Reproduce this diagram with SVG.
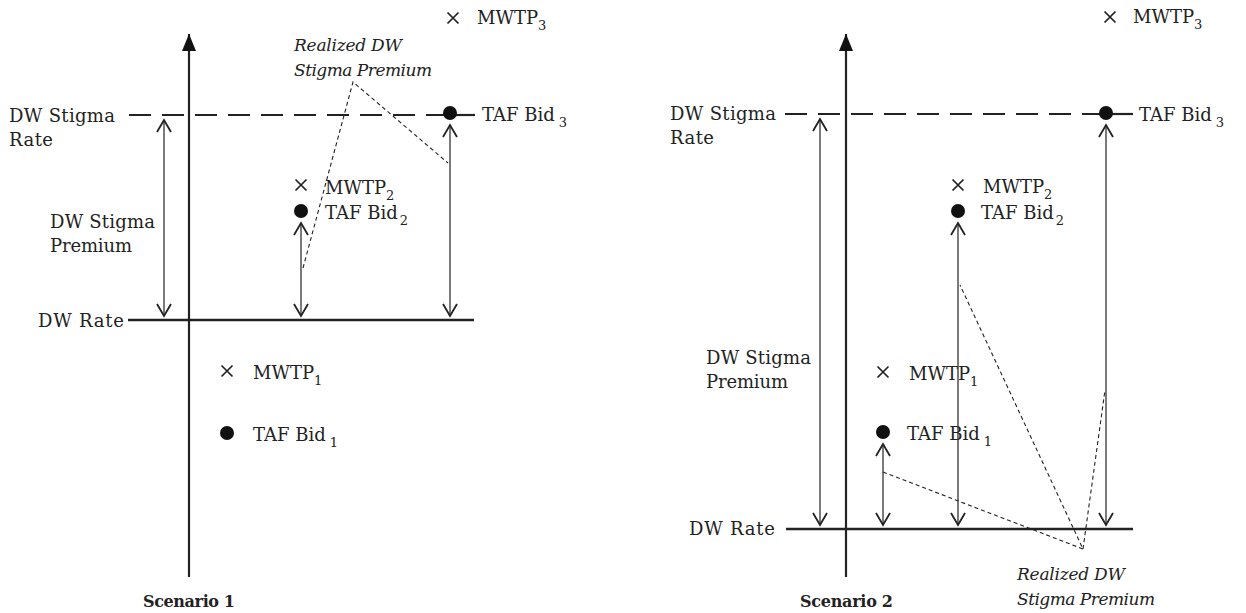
<svg xmlns="http://www.w3.org/2000/svg" width="1246" height="613" viewBox="0 0 1246 613">
<defs>
<marker id="v" viewBox="-14 -9 16 18" markerWidth="16" markerHeight="18" markerUnits="userSpaceOnUse" refX="0" refY="0" orient="auto-start-reverse">
<path d="M-12,-7 L0,0 L-12,7" fill="none" stroke="#222" stroke-width="1.8"/>
</marker>
<marker id="tri" viewBox="-18 -8 20 16" markerWidth="20" markerHeight="16" markerUnits="userSpaceOnUse" refX="0" refY="0" orient="auto">
<path d="M-17,-7 L0,0 L-17,7 Z" fill="#111"/>
</marker>
</defs>
<style>
text{font-family:"DejaVu Serif","Liberation Serif",serif;font-size:18px;font-weight:normal;fill:#222}
.it{font-style:italic;font-size:17px}
.sub{font-size:13px}
.sc{font-size:16px;font-weight:bold}
.axis{stroke:#222;stroke-width:2.2;fill:none}
.base{stroke:#222;stroke-width:2.6;fill:none}
.dash{stroke:#222;stroke-width:2.2;stroke-dasharray:22,11;fill:none}
.dbl{stroke:#333;stroke-width:1.3;fill:none;marker-start:url(#v);marker-end:url(#v)}
.dot{stroke:#222;stroke-width:1.1;stroke-dasharray:4,3;fill:none}
.cross{stroke:#222;stroke-width:1.7;fill:none}
.pt{fill:#111}
</style>

<g id="scenario1">
<g id="s1-axes">
<line class="axis" x1="189" y1="577" x2="189" y2="34" marker-end="url(#tri)"/>
<line class="base" x1="128" y1="320" x2="474" y2="320"/>
<line class="dash" x1="129" y1="115" x2="444" y2="115"/>
<line class="axis" x1="450" y1="115" x2="475" y2="115"/>
</g>
<g id="s1-labels">
<text x="9" y="122" textLength="106">DW Stigma</text>
<text x="9" y="146" textLength="44">Rate</text>
<text x="38" y="327" textLength="86">DW Rate</text>
<text x="50" y="228" textLength="105">DW Stigma</text>
<text x="50" y="252" textLength="82">Premium</text>
<text class="it" x="294" y="51" textLength="108">Realized DW</text>
<text class="it" x="294" y="76" textLength="138">Stigma Premium</text>
<text class="sc" x="143" y="607" textLength="92">Scenario 1</text>
</g>
<g id="s1-bidder1">
<path class="cross" d="M221.5,365.5 L232.5,376.5 M232.5,365.5 L221.5,376.5"/>
<text x="253" y="379">MWTP<tspan class="sub" dy="6">1</tspan></text>
<circle class="pt" cx="227" cy="433" r="7"/>
<text x="253" y="441">TAF Bid<tspan class="sub" dx="4" dy="6">1</tspan></text>
</g>
<g id="s1-bidder2">
<path class="cross" d="M295.5,179.5 L306.5,190.5 M306.5,179.5 L295.5,190.5"/>
<text x="325" y="194">MWTP<tspan class="sub" dy="6">2</tspan></text>
<circle class="pt" cx="301" cy="211" r="7"/>
<text x="325" y="219">TAF Bid<tspan class="sub" dx="2" dy="6">2</tspan></text>
</g>
<g id="s1-bidder3">
<path class="cross" d="M447.5,12.5 L458.5,23.5 M458.5,12.5 L447.5,23.5"/>
<text x="477" y="24">MWTP<tspan class="sub" dy="6">3</tspan></text>
<circle class="pt" cx="450" cy="113" r="7"/>
<text x="482" y="121">TAF Bid<tspan class="sub" dx="4" dy="6">3</tspan></text>
</g>
<g id="s1-connectors">
<line class="dbl" x1="164" y1="120" x2="164" y2="316"/>
<line class="dbl" x1="301" y1="223" x2="301" y2="316"/>
<line class="dbl" x1="450" y1="125" x2="450" y2="316"/>
<path class="dot" d="M303,268 L353,82 L448,163"/>
</g>
</g>

<g id="scenario2">
<g id="s2-axes">
<line class="axis" x1="846" y1="577" x2="846" y2="34" marker-end="url(#tri)"/>
<line class="base" x1="786" y1="529" x2="1133" y2="529"/>
<line class="dash" x1="785" y1="114" x2="1100" y2="114"/>
<line class="axis" x1="1106" y1="114" x2="1133" y2="114"/>
</g>
<g id="s2-labels">
<text x="670" y="120" textLength="106">DW Stigma</text>
<text x="670" y="144" textLength="44">Rate</text>
<text x="689" y="535" textLength="86">DW Rate</text>
<text x="706" y="364" textLength="105">DW Stigma</text>
<text x="706" y="388" textLength="82">Premium</text>
<text class="it" x="1017" y="580" textLength="108">Realized DW</text>
<text class="it" x="1017" y="605" textLength="138">Stigma Premium</text>
<text class="sc" x="800" y="607" textLength="93">Scenario 2</text>
</g>
<g id="s2-bidder1">
<path class="cross" d="M877.5,366.5 L888.5,377.5 M888.5,366.5 L877.5,377.5"/>
<text x="909" y="380">MWTP<tspan class="sub" dy="6">1</tspan></text>
<circle class="pt" cx="883" cy="432" r="7"/>
<text x="907" y="440">TAF Bid<tspan class="sub" dx="4" dy="6">1</tspan></text>
</g>
<g id="s2-bidder2">
<path class="cross" d="M952.5,179.5 L963.5,190.5 M963.5,179.5 L952.5,190.5"/>
<text x="983" y="193">MWTP<tspan class="sub" dy="6">2</tspan></text>
<circle class="pt" cx="958" cy="211" r="7"/>
<text x="981" y="219">TAF Bid<tspan class="sub" dx="2" dy="6">2</tspan></text>
</g>
<g id="s2-bidder3">
<path class="cross" d="M1104.5,11.5 L1115.5,22.5 M1115.5,11.5 L1104.5,22.5"/>
<text x="1133" y="23">MWTP<tspan class="sub" dy="6">3</tspan></text>
<circle class="pt" cx="1106" cy="113" r="7"/>
<text x="1139" y="121">TAF Bid<tspan class="sub" dx="4" dy="6">3</tspan></text>
</g>
<g id="s2-connectors">
<line class="dbl" x1="820" y1="119" x2="820" y2="525"/>
<line class="dbl" x1="883" y1="444" x2="883" y2="525"/>
<line class="dbl" x1="958" y1="223" x2="958" y2="525"/>
<line class="dbl" x1="1106" y1="125" x2="1106" y2="525"/>
<path class="dot" d="M883,472 L1083,549 L960,285 M1083,549 L1105,390"/>
</g>
</g>
</svg>
